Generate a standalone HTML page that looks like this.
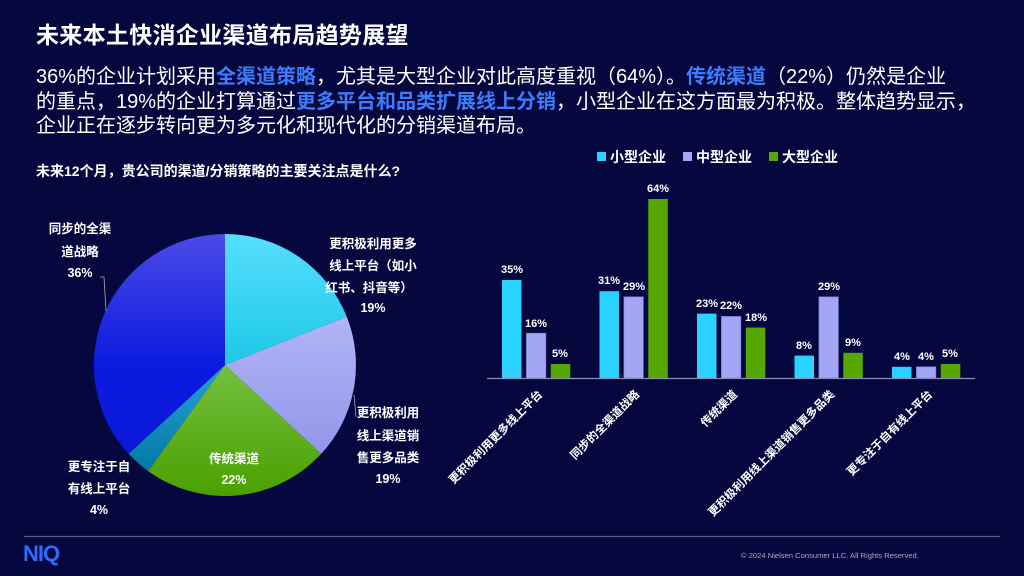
<!DOCTYPE html>
<html><head><meta charset="utf-8"><style>
html,body{margin:0;padding:0;}
body{width:1024px;height:576px;background:#05083f;overflow:hidden;position:relative;font-family:"Liberation Sans","Noto Sans CJK SC",sans-serif;color:#fff;}
.t{position:absolute;left:36px;top:16px;font-size:23px;font-weight:bold;letter-spacing:0.3px;}
.p{position:absolute;left:36px;top:65px;font-size:20px;line-height:24.5px;white-space:nowrap;}
.p b{color:#3d7bff;}
.q{position:absolute;left:36px;top:161px;font-size:14px;font-weight:bold;}
.cr{position:absolute;left:741px;top:551px;font-size:7.6px;color:#aab;}
.niq{position:absolute;left:23px;top:541px;font-size:22px;font-weight:bold;color:#2f6bff;letter-spacing:-1px;}
</style></head><body>
<div class="t">未来本土快消企业渠道布局趋势展望</div>
<div class="p">36%的企业计划采用<b>全渠道策略</b>，尤其是大型企业对此高度重视（64%）。<b>传统渠道</b>（22%）仍然是企业<br>的重点，19%的企业打算通过<b>更多平台和品类扩展线上分销</b>，小型企业在这方面最为积极。整体趋势显示，<br>企业正在逐步转向更为多元化和现代化的分销渠道布局。</div>
<div class="q">未来12个月，贵公司的渠道/分销策略的主要关注点是什么?</div>
<svg width="1024" height="576" style="position:absolute;left:0;top:0" font-family="Liberation Sans, Noto Sans CJK SC, sans-serif">
<defs>
<linearGradient id="gc" gradientUnits="userSpaceOnUse" x1="0" y1="234" x2="0" y2="496"><stop offset="0" stop-color="#56deff"/><stop offset="0.5" stop-color="#1ec8e8"/><stop offset="1" stop-color="#14b0d8"/></linearGradient>
<linearGradient id="gl" gradientUnits="userSpaceOnUse" x1="0" y1="300" x2="0" y2="496"><stop offset="0" stop-color="#b5b8f7"/><stop offset="1" stop-color="#8a8ce6"/></linearGradient>
<linearGradient id="gg" gradientUnits="userSpaceOnUse" x1="0" y1="365" x2="0" y2="496"><stop offset="0" stop-color="#74c040"/><stop offset="1" stop-color="#4aa000"/></linearGradient>
<linearGradient id="gt" gradientUnits="userSpaceOnUse" x1="0" y1="365" x2="0" y2="470"><stop offset="0" stop-color="#2aa0d8"/><stop offset="1" stop-color="#007aa5"/></linearGradient>
<linearGradient id="gb" gradientUnits="userSpaceOnUse" x1="0" y1="234" x2="0" y2="496"><stop offset="0" stop-color="#4a4be6"/><stop offset="0.5" stop-color="#0c1ae0"/><stop offset="1" stop-color="#0a18d8"/></linearGradient>
</defs>
<path d="M225,365 L225,234 A131,131 0 0,1 346.8,316.8 Z" fill="url(#gc)"/>
<path d="M225,365 L346.8,316.8 A131,131 0 0,1 321.2,453.8 Z" fill="url(#gl)"/>
<path d="M225,365 L321.2,453.8 A131,131 0 0,1 148,471 Z" fill="url(#gg)"/>
<path d="M225,365 L148,471 A131,131 0 0,1 128.6,453.8 Z" fill="url(#gt)"/>
<path d="M225,365 L128.6,453.8 A131,131 0 0,1 225,234 Z" fill="url(#gb)"/>
<polyline points="100,277 104,277 106,311" fill="none" stroke="#aab" stroke-width="0.8"/>
<line x1="354" y1="395" x2="356" y2="417" stroke="#aab" stroke-width="0.8"/>
<g font-size="12.5" font-weight="bold" fill="#fff" text-anchor="middle">
<text x="80" y="233">同步的全渠</text><text x="80" y="256">道战略</text><text x="80" y="277">36%</text>
<text x="373" y="248">更积极利用更多</text><text x="373" y="270">线上平台（如小</text><text x="369" y="292">红书、抖音等）</text><text x="373" y="312">19%</text>
<text x="388" y="417">更积极利用</text><text x="388" y="440">线上渠道销</text><text x="388" y="462">售更多品类</text><text x="388" y="483">19%</text>
<text x="234" y="463">传统渠道</text><text x="234" y="484">22%</text>
<text x="99" y="471">更专注于自</text><text x="99" y="493">有线上平台</text><text x="99" y="514">4%</text>
</g>
<g font-size="14" font-weight="bold" fill="#fff">
<rect x="597" y="152" width="9" height="9" fill="#2bd2ff"/><text x="610" y="162">小型企业</text>
<rect x="683" y="152" width="9" height="9" fill="#a3a6f5"/><text x="696" y="162">中型企业</text>
<rect x="769" y="152" width="9" height="9" fill="#56a800"/><text x="782" y="162">大型企业</text>
</g>
<line x1="487" y1="378.5" x2="975" y2="378.5" stroke="#8c8fb0" stroke-width="1.2"/>
<g font-size="11" font-weight="bold" fill="#fff" text-anchor="middle">
<rect x="502" y="280" width="19.5" height="98" fill="#2bd2ff"/><text x="512" y="273">35%</text>
<rect x="526.4" y="333.2" width="19.5" height="44.8" fill="#a3a6f5" stroke="#7a7dd0" stroke-width="0.6"/><text x="536" y="327">16%</text>
<rect x="550.8" y="364" width="19.5" height="14" fill="#56a800"/><text x="560" y="357">5%</text>
<rect x="599.5" y="291.2" width="19.5" height="86.8" fill="#2bd2ff"/><text x="609" y="284">31%</text>
<rect x="623.9" y="296.8" width="19.5" height="81.2" fill="#a3a6f5" stroke="#7a7dd0" stroke-width="0.6"/><text x="634" y="290">29%</text>
<rect x="648.3" y="199" width="19.5" height="179" fill="#56a800"/><text x="658" y="192">64%</text>
<rect x="697" y="313.6" width="19.5" height="64.4" fill="#2bd2ff"/><text x="707" y="307">23%</text>
<rect x="721.4" y="316.4" width="19.5" height="61.6" fill="#a3a6f5" stroke="#7a7dd0" stroke-width="0.6"/><text x="731" y="309">22%</text>
<rect x="745.8" y="327.6" width="19.5" height="50.4" fill="#56a800"/><text x="756" y="321">18%</text>
<rect x="794.5" y="355.6" width="19.5" height="22.4" fill="#2bd2ff"/><text x="804" y="349">8%</text>
<rect x="818.9" y="296.8" width="19.5" height="81.2" fill="#a3a6f5" stroke="#7a7dd0" stroke-width="0.6"/><text x="829" y="290">29%</text>
<rect x="843.3" y="352.8" width="19.5" height="25.2" fill="#56a800"/><text x="853" y="346">9%</text>
<rect x="892" y="366.8" width="19.5" height="11.2" fill="#2bd2ff"/><text x="902" y="360">4%</text>
<rect x="916.4" y="366.8" width="19.5" height="11.2" fill="#a3a6f5" stroke="#7a7dd0" stroke-width="0.6"/><text x="926" y="360">4%</text>
<rect x="940.8" y="364" width="19.5" height="14" fill="#56a800"/><text x="950" y="357">5%</text>
</g>
<g font-size="11.5" font-weight="bold" fill="#fff" text-anchor="end">
<text transform="translate(543,395) rotate(-45)">更积极利用更多线上平台</text>
<text transform="translate(640,395) rotate(-45)">同步的全渠道战略</text>
<text transform="translate(738,395) rotate(-45)">传统渠道</text>
<text transform="translate(835,395) rotate(-45)">更积极利用线上渠道销售更多品类</text>
<text transform="translate(933,395) rotate(-45)">更专注于自有线上平台</text>
</g>
<line x1="24" y1="536.5" x2="1000" y2="536.5" stroke="#5a5c80" stroke-width="1.2"/>
</svg>
<div class="niq">NIQ</div>
<div class="cr">© 2024 Nielsen Consumer LLC. All Rights Reserved.</div>
</body></html>
